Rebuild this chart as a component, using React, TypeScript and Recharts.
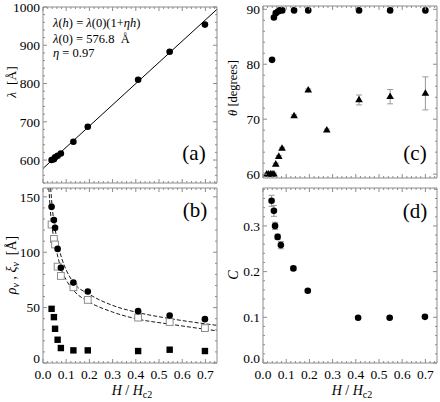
import React from "react";
import { ComposedChart, Scatter, Line, XAxis, YAxis, ErrorBar } from "recharts";

// field values H/Hc2 shared by panels (a), (b), (d)
const H = [0.037, 0.047, 0.052, 0.063, 0.077, 0.131, 0.193, 0.41, 0.546, 0.698];

// (a) lattice spacing and linear fit
const LAMBDA = [600, 602, 607, 611, 617, 648, 687, 810, 883, 954];
const FIT_H = [0, 0.75];
const FIT_LAMBDA = [578, 994];

// (b) rho_v (filled circles), xi_v (open squares), small filled squares
const RHO = [141, 129, 122, 103, 86, 72.6, 64.5, 46.8, 42.9, 39.6];
const XI = [125, 112, 107, 87, 78.6, 68.4, 57, 41, 37, 31.5];
const CORE = [48.9, 41.4, 30.9, 21, 13.5, 11.4, 11.4, 10.8, 12, 10.8];
const UPPER_H = [0.033, 0.04, 0.05, 0.065, 0.08, 0.1, 0.134, 0.2, 0.3, 0.4, 0.55, 0.75];
const UPPER = [158, 140, 124, 107, 95, 84, 72, 62, 52, 46, 40, 34];
const LOWER_H = [0.025, 0.035, 0.05, 0.065, 0.08, 0.1, 0.134, 0.2, 0.3, 0.4, 0.55, 0.75];
const LOWER = [158, 130, 110, 95, 84, 75, 65, 55, 46, 40, 35, 29];

// (c) opening angles
const THETA1_H = [0.039, 0.047, 0.055, 0.065, 0.072, 0.083, 0.134, 0.195, 0.414, 0.548, 0.7];
const THETA1 = [80.8, 88.5, 89.3, 89.6, 89.8, 89.8, 89.8, 89.8, 89.8, 89.8, 89.8];
const THETA2_H = [0.016, 0.024, 0.032, 0.039, 0.047, 0.055, 0.068, 0.082, 0.134, 0.195, 0.275, 0.414, 0.548, 0.7];
const THETA2 = [60, 60, 60, 60, 60, 61.8, 63.2, 64.7, 70.6, 75.3, 68.0, 73.5, 74.1, 74.7];
const THETA2_ERR = [0.2, 0.2, 0.2, 0.2, 0.2, 0.2, 0.2, 0.2, 0.2, 0.2, 0.2, 0.9, 1.3, 3.0];

// (d)
const CVAL = [0.355, 0.333, 0.3, 0.276, 0.258, 0.207, 0.158, 0.099, 0.099, 0.101];
const CVAL_ERR = [0.012, 0.012, 0.008, 0.006, 0.008, 0.004, 0.003, 0.002, 0.002, 0.002];

// ticks
const X_TICKS = [0, 0.1, 0.2, 0.3, 0.4, 0.5, 0.6, 0.7];
const A_TICKS = [600, 700, 800, 900, 1000];
const B_TICKS = [0, 50, 100, 150];
const C_TICKS = [60, 70, 80, 90];
const D_TICKS = [0, 0.1, 0.2, 0.3];

const FRAME = "#8c8c8c";
const FONT = "Liberation Serif, Tinos, Times New Roman, serif";
const TXT = { fontFamily: FONT };

const pts = (xs: number[], ys: number[], es?: number[]) =>
  xs.map((x, i) => ({ x, y: ys[i], e: es ? es[i] : 0 }));

const range = (a: number, b: number, s: number) => {
  const out: number[] = [];
  for (let i = 0; a + i * s <= b + 1e-9; i++) out.push(+(a + i * s).toFixed(4));
  return out;
};

const X_ALL = range(0, 0.74, 0.02);

type Edge = "bottom" | "top" | "left" | "right";

const makeTick = (edge: Edge, major: number[], fmt?: (v: number) => string) => (p: any) => {
  const v = p.payload.value;
  const big = major.some((m) => Math.abs(m - v) < 1e-6);
  const len = big ? 4 : 2;
  const { x, y } = p;
  let ln;
  if (edge === "bottom") ln = <line x1={x} y1={y} x2={x} y2={y - len} />;
  else if (edge === "top") ln = <line x1={x} y1={y} x2={x} y2={y + len} />;
  else if (edge === "left") ln = <line x1={x} y1={y} x2={x + len} y2={y} />;
  else ln = <line x1={x} y1={y} x2={x - len} y2={y} />;
  let label = null;
  if (fmt && big) {
    label =
      edge === "bottom" ? (
        <text x={x} y={y + 6} dy="0.71em" textAnchor="middle" fontSize={13.5} style={TXT} fill="#000">
          {fmt(v)}
        </text>
      ) : (
        // the zero label sits a little higher so it clears the x tick labels
        <text x={x - 3} y={y} dy={v === 0 ? "0.02em" : "0.35em"} textAnchor="end" fontSize={13.5} style={TXT} fill="#000">
          {fmt(v)}
        </text>
      );
  }
  return (
    <g>
      <g stroke={FRAME} strokeWidth={1}>{ln}</g>
      {label}
    </g>
  );
};

const Dot = (p: any) => <circle cx={p.cx} cy={p.cy} r={3.3} fill="#000" />;
const Tri = (p: any) => (
  <path
    d={`M${p.cx},${p.cy - 4.2}L${p.cx + 3.8},${p.cy + 2.4}L${p.cx - 3.8},${p.cy + 2.4}Z`}
    fill="#000"
  />
);
const Sq = (p: any) => <rect x={p.cx - 3.2} y={p.cy - 3.2} width={6.4} height={6.4} fill="#000" />;
const OpenSq = (p: any) => (
  <rect x={p.cx - 3.4} y={p.cy - 3.4} width={6.8} height={6.8} fill="#fff" stroke="#8c8c8c" strokeWidth={1} />
);

interface PanelProps {
  left: number;
  top: number;
  height: number;
  margin: { top: number; right: number; bottom: number; left: number };
  yDomain: [number, number];
  yTicks: number[];
  yAll: number[];
  yFmt: (v: number) => string;
  showX: boolean;
  children: React.ReactNode;
}

function Panel({ left, top, height, margin, yDomain, yTicks, yAll, yFmt, showX, children }: PanelProps) {
  const xDomain: [number, number] = [0, 0.75];
  return (
    <div style={{ position: "absolute", left, top, width: 220, height }}>
      <ComposedChart width={220} height={height} margin={margin}>
        <XAxis
          type="number"
          dataKey="x"
          orientation="bottom"
          mirror={!showX}
          height={showX ? 20 : 1}
          domain={xDomain}
          allowDataOverflow
          ticks={X_ALL}
          interval={0}
          tickSize={0}
          tickMargin={0}
          tickLine={false}
          stroke={FRAME}
          tick={makeTick("bottom", X_TICKS, showX ? (v) => v.toFixed(1) : undefined)}
        />
        <XAxis
          xAxisId="top"
          type="number"
          dataKey="x"
          orientation="top"
          mirror
          height={1}
          domain={xDomain}
          allowDataOverflow
          ticks={X_ALL}
          interval={0}
          tickSize={0}
          tickMargin={0}
          tickLine={false}
          stroke={FRAME}
          tick={makeTick("top", X_TICKS)}
        />
        <YAxis
          type="number"
          dataKey="y"
          orientation="left"
          width={32}
          domain={yDomain}
          allowDataOverflow
          ticks={yAll}
          interval={0}
          tickSize={0}
          tickMargin={0}
          tickLine={false}
          stroke={FRAME}
          tick={makeTick("left", yTicks, yFmt)}
        />
        <YAxis
          yAxisId="right"
          type="number"
          dataKey="y"
          orientation="right"
          mirror
          width={1}
          domain={yDomain}
          allowDataOverflow
          ticks={yAll}
          interval={0}
          tickSize={0}
          tickMargin={0}
          tickLine={false}
          stroke={FRAME}
          tick={makeTick("right", yTicks)}
        />
        {children}
      </ComposedChart>
    </div>
  );
}

export default function App() {
  return (
    <div style={{ position: "absolute", left: 0, top: 0, width: 440, height: 402, background: "#fff", fontFamily: FONT }}>
      {/* (a) */}
      <Panel
        left={0}
        top={0}
        height={190}
        margin={{ top: 7, right: 3, bottom: 7, left: 11 }}
        yDomain={[540, 1000]}
        yTicks={A_TICKS}
        yAll={range(540, 1000, 20)}
        yFmt={(v) => String(v)}
        showX={false}
      >
        <Line data={pts(FIT_H, FIT_LAMBDA)} dataKey="y" stroke="#000" strokeWidth={1} dot={false} isAnimationActive={false} />
        <Scatter data={pts(H, LAMBDA)} dataKey="y" shape={Dot} isAnimationActive={false} />
      </Panel>

      {/* (c) */}
      <Panel
        left={220}
        top={0}
        height={190}
        margin={{ top: 6, right: 3, bottom: 12, left: 11 }}
        yDomain={[59.3, 90.6]}
        yTicks={C_TICKS}
        yAll={range(60, 90, 2)}
        yFmt={(v) => String(v)}
        showX={false}
      >
        <Scatter data={pts(THETA2_H, THETA2, THETA2_ERR)} dataKey="y" shape={Tri} isAnimationActive={false}>
          <ErrorBar dataKey="e" direction="y" width={3} stroke="#999" strokeWidth={1} />
        </Scatter>
        <Scatter data={pts(THETA1_H, THETA1)} dataKey="y" shape={Dot} isAnimationActive={false} />
      </Panel>

      {/* (b) */}
      <Panel
        left={0}
        top={186}
        height={216}
        margin={{ top: 2, right: 3, bottom: 19, left: 11 }}
        yDomain={[0, 158]}
        yTicks={B_TICKS}
        yAll={range(0, 150, 10)}
        yFmt={(v) => String(v)}
        showX
      >
        <Line data={pts(UPPER_H, UPPER)} dataKey="y" type="monotone" stroke="#000" strokeWidth={0.9} strokeDasharray="4 2" dot={false} isAnimationActive={false} />
        <Line data={pts(LOWER_H, LOWER)} dataKey="y" type="monotone" stroke="#000" strokeWidth={0.9} strokeDasharray="4 2" dot={false} isAnimationActive={false} />
        <Scatter data={pts(H, XI)} dataKey="y" shape={OpenSq} isAnimationActive={false} />
        <Scatter data={pts(H, RHO)} dataKey="y" shape={Dot} isAnimationActive={false} />
        <Scatter data={pts(H, CORE)} dataKey="y" shape={Sq} isAnimationActive={false} />
      </Panel>

      {/* (d) */}
      <Panel
        left={220}
        top={186}
        height={216}
        margin={{ top: 2, right: 3, bottom: 19, left: 11 }}
        yDomain={[0, 0.383]}
        yTicks={D_TICKS}
        yAll={range(0, 0.38, 0.02)}
        yFmt={(v) => v.toFixed(1)}
        showX
      >
        <Scatter data={pts(H, CVAL, CVAL_ERR)} dataKey="y" shape={Dot} isAnimationActive={false}>
          <ErrorBar dataKey="e" direction="y" width={3} stroke="#999" strokeWidth={1} />
        </Scatter>
      </Panel>

      <svg width={440} height={402} style={{ position: "absolute", left: 0, top: 0, pointerEvents: "none", fontFamily: FONT }} fill="#000">
        {/* formula in (a) */}
        <text x={53} y={27} fontSize={12.5} style={TXT}>
          <tspan fontStyle="italic">λ</tspan>(<tspan fontStyle="italic">h</tspan>) = <tspan fontStyle="italic">λ</tspan>(0)(1+<tspan fontStyle="italic">ηh</tspan>)
        </text>
        <text x={53} y={43} fontSize={12.5} style={TXT}>
          <tspan fontStyle="italic">λ</tspan>(0) = 576.8{"\u2002"}Å
        </text>
        <text x={53} y={57} fontSize={12.5} style={TXT}>
          <tspan fontStyle="italic">η</tspan> = 0.97
        </text>

        {/* panel letters */}
        <text x={194} y={160} fontSize={21} textAnchor="middle" style={TXT}>(a)</text>
        <text x={195} y={217} fontSize={21} textAnchor="middle" style={TXT}>(b)</text>
        <text x={415} y={160} fontSize={21} textAnchor="middle" style={TXT}>(c)</text>
        <text x={415} y={218} fontSize={21} textAnchor="middle" style={TXT}>(d)</text>

        {/* y axis titles */}
        <text transform="translate(16,82) rotate(-90)" fontSize={13.5} textAnchor="middle" style={TXT}>
          <tspan fontStyle="italic">λ</tspan>{"\u2002"}[Å]
        </text>
        <text transform="translate(16,265) rotate(-90)" fontSize={14} textAnchor="middle" style={TXT}>
          <tspan fontStyle="italic">ρ</tspan>
          <tspan fontStyle="italic" fontSize={10} dy={3}>v</tspan>
          <tspan dy={-3}> , </tspan>
          <tspan fontStyle="italic">ξ</tspan>
          <tspan fontStyle="italic" fontSize={10} dy={3}>v</tspan>
          <tspan dy={-3}>{"\u2002"}[Å]</tspan>
        </text>
        <text transform="translate(237,88) rotate(-90)" fontSize={12.5} textAnchor="middle" style={TXT}>
          <tspan fontStyle="italic">θ</tspan> [degrees]
        </text>
        <text transform="translate(238,275) rotate(-90)" fontSize={14} textAnchor="middle" fontStyle="italic" style={TXT}>
          C
        </text>

        {/* x axis titles */}
        <text x={132} y={395} fontSize={14} textAnchor="middle" style={TXT}>
          <tspan fontStyle="italic">H</tspan> / <tspan fontStyle="italic">H</tspan>
          <tspan fontSize={10} dy={3}>c2</tspan>
        </text>
        <text x={352} y={395} fontSize={14} textAnchor="middle" style={TXT}>
          <tspan fontStyle="italic">H</tspan> / <tspan fontStyle="italic">H</tspan>
          <tspan fontSize={10} dy={3}>c2</tspan>
        </text>
      </svg>
    </div>
  );
}
